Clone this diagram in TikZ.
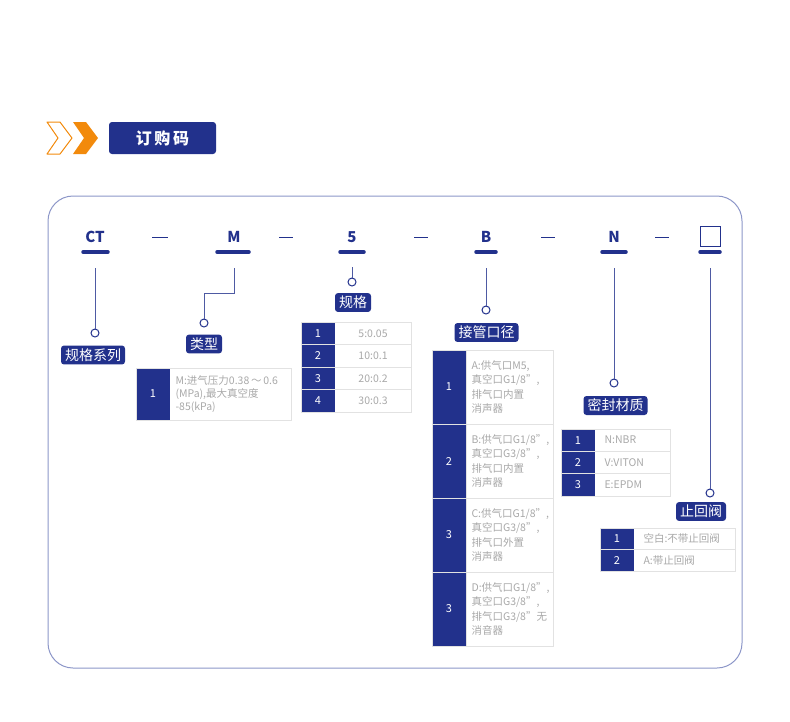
\documentclass[tikz,border=0pt]{standalone}
\usepackage{fontspec}
\setmainfont{Noto Sans CJK SC}
\definecolor{navy}{HTML}{22318C}
\definecolor{frame}{HTML}{8C96C8}
\definecolor{org}{HTML}{F28A0C}
\definecolor{gtxt}{HTML}{A8A8A8}
\definecolor{gline}{HTML}{E2E2E2}
\begin{document}
\begin{tikzpicture}[x=1pt,y=-1pt,
  lab/.style={fill=navy,rounded corners=3pt,text=white,font=\fontsize{14}{14}\selectfont,inner xsep=4pt,inner ysep=3pt},
  code/.style={text=navy,font=\bfseries\fontsize{15}{15}\selectfont},
  uline/.style={navy,line width=3.5pt,line cap=round},
  dsh/.style={navy,line width=1pt},
  conn/.style={navy!80,line width=0.8pt},
  dot/.style={circle,draw=navy,fill=white,line width=1pt,inner sep=0pt,minimum size=8pt},
  cell/.style={draw=gline,line width=0.8pt},
  num/.style={text=white,font=\fontsize{11}{11}\selectfont},
  txt/.style={text=gtxt,font=\fontsize{10.5}{13}\selectfont,align=left,anchor=west}]
\useasboundingbox (0,0) rectangle (790,721);
% header
\draw[org,line width=1pt,line join=round] (47,122)--(60,122)--(72,138)--(60,154)--(47,154)--(58,138)--cycle;
\fill[org] (73,122)--(86,122)--(98,138)--(86,154)--(73,154)--(84,138)--cycle;
\node[fill=navy,rounded corners=3pt,minimum width=107pt,minimum height=32pt,text=white,font=\bfseries\fontsize{16}{16}\selectfont] (title) at (162.5,138) {订\,购\,码};
% frame
\draw[frame,line width=1pt,rounded corners=25pt] (48,196) rectangle (742,668);
% codes
\node[code] (cCT) at (95,237) {CT};
\node[code] (cM) at (234,237) {M};
\node[code] (c5) at (352,237) {5};
\node[code] (cB) at (486,237) {B};
\node[code] (cN) at (614,237) {N};
\node[draw=navy,line width=1pt,minimum size=20pt,inner sep=0pt] (cX) at (710,236) {};
\draw[uline] (83,252)--(108,252);
\draw[uline] (217,252)--(249,252);
\draw[uline] (340,252)--(364,252);
\draw[uline] (476,252)--(496,252);
\draw[uline] (602,252)--(626,252);
\draw[uline] (700,252)--(720,252);
\foreach \a/\b in {152/168,279/293,414/428,541/555,655/669} \draw[dsh] (\a,237)--(\b,237);
% connectors and labels
\node[dot] (d1) at (95,333) {};
\coordinate (t1) at (95,268);
\draw[conn] (t1)--(d1);
\node[lab] (l1) at (93,355) {规格系列};
\node[dot] (d2) at (204,323) {};
\coordinate (t2) at (234,268);
\draw[conn] (t2)--(234,293)--(204,293)--(d2);
\node[lab] (l2) at (204,344) {类型};
\node[dot] (d3) at (352,282) {};
\coordinate (t3) at (352,267);
\draw[conn] (t3)--(d3);
\node[lab] (l3) at (353,302.5) {规格};
\node[dot] (d4) at (486,310) {};
\coordinate (t4) at (486,268);
\draw[conn] (t4)--(d4);
\node[lab] (l4) at (486.5,332.5) {接管口径};
\node[dot] (d5) at (614,383) {};
\coordinate (t5) at (614,268);
\draw[conn] (t5)--(d5);
\node[lab] (l5) at (615.5,405.5) {密封材质};
\node[dot] (d6) at (710,493) {};
\coordinate (t6) at (710,268);
\draw[conn] (t6)--(d6);
\node[lab] (l6) at (701,511.5) {止回阀};
% table 1
\fill[navy] (136,368) rectangle (170,420);
\draw[cell] (136,368) rectangle (291,420);
\node[num] at (153,394) {1};
\node[txt] at (172,394) {M:进气压力0.38\,\char"FF5E\,0.6\\(MPa),最大真空度\\-85(kPa)};
% table 2
\foreach \y/\n/\t in {322/1/5:0.05,344.5/2/10:0.1,367/3/20:0.2,389.5/4/30:0.3}{
  \fill[navy] (301,\y) rectangle (335,\y+22.5);
  \draw[cell] (301,\y) rectangle (411,\y+22.5);
  \node[num] at (318,\y+11.25) {\n};
  \node[text=gtxt,font=\fontsize{10.5}{13}\selectfont] at (373,\y+11.25) {\t};}
% table 3
\foreach \y/\n/\t in {350/1/{A:供气口M5,\\真空口G1/8",\\排气口内置\\消声器},424/2/{B:供气口G1/8",\\真空口G3/8",\\排气口内置\\消声器},498/3/{C:供气口G1/8",\\真空口G3/8",\\排气口外置\\消声器},572/3/{D:供气口G1/8",\\真空口G3/8",\\排气口G3/8"无\\消音器}}{
  \fill[navy] (432,\y) rectangle (466,\y+74);
  \draw[cell] (432,\y) rectangle (553,\y+74);
  \draw[gline] (466,\y)--(466,\y+74);
  \node[num] at (449,\y+37) {\n};
  \node[txt,font=\fontsize{10.5}{14.5}\selectfont] at (468,\y+37) {\t};}
% table 4
\foreach \y/\n/\t in {429/1/N:NBR,451.3/2/V:VITON,473.6/3/E:EPDM}{
  \fill[navy] (561,\y) rectangle (595,\y+22.3);
  \draw[cell] (561,\y) rectangle (670,\y+22.3);
  \node[num] at (578,\y+11.15) {\n};
  \node[txt] at (601,\y+11.15) {\t};}
% table 5
\foreach \y/\n/\t in {528/1/空白:不带止回阀,549.5/2/A:带止回阀}{
  \fill[navy] (600,\y) rectangle (634,\y+21.5);
  \draw[cell] (600,\y) rectangle (735,\y+21.5);
  \node[num] at (617,\y+10.75) {\n};
  \node[txt] at (640,\y+10.75) {\t};}
\end{tikzpicture}
\end{document}
